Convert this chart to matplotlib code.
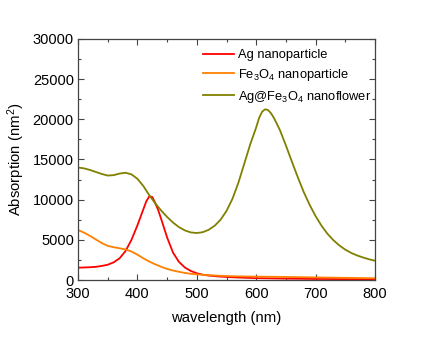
import matplotlib
matplotlib.use("Agg")
import matplotlib.pyplot as plt
from matplotlib.ticker import MultipleLocator

plt.rcParams['font.family'] = ['Liberation Sans', 'DejaVu Sans']
plt.rcParams['mathtext.fontset'] = 'custom'
plt.rcParams['mathtext.rm'] = 'Liberation Sans'
plt.rcParams['mathtext.it'] = 'Liberation Sans'

# Ag nanoparticle
ag_x = [300, 310, 320, 330, 340, 350, 360, 370, 380, 390, 400, 405, 410, 415, 420, 425,
        430, 435, 440, 450, 460, 470, 480, 490, 500, 510, 520, 530, 540, 550, 560, 570,
        580, 600, 650, 700, 750, 800]
ag_y = [1530, 1560, 1590, 1640, 1750, 1900, 2200, 2700, 3600, 5000, 6800, 7800, 8800,
        9800, 10400, 10350, 9600, 8700, 7600, 5300, 3400, 2250, 1550, 1120, 840, 660,
        550, 480, 420, 380, 340, 310, 280, 230, 170, 130, 110, 90]

# Fe3O4 nanoparticle
fe_x = [300, 310, 320, 330, 340, 350, 360, 370, 380, 390, 400, 410, 420, 430, 440,
        450, 460, 470, 480, 490, 500, 520, 540, 560, 580, 600, 650, 700, 750, 800]
fe_y = [6220, 5900, 5500, 5050, 4600, 4250, 4080, 3950, 3800, 3550, 3150, 2700, 2300,
        1950, 1650, 1380, 1180, 1020, 880, 770, 700, 600, 520, 470, 440, 420, 380,
        320, 270, 220]

# Ag@Fe3O4 nanoflower
nf_x = [300, 310, 320, 330, 340, 350, 360, 370, 380, 390, 400, 410, 420, 430, 440,
        450, 460, 470, 480, 490, 500, 510, 520, 530, 540, 550, 560, 570, 580, 590,
        600, 605, 610, 615, 620, 625, 630, 640, 650, 660, 670, 680, 690, 700, 710, 720,
        730, 740, 750, 760, 770, 780, 790, 800]
nf_y = [14000, 13900, 13700, 13450, 13200, 13000, 13050, 13250, 13350, 13150, 12600,
        11700, 10550, 9550, 8650, 7850, 7150, 6580, 6170, 5920, 5850, 5950, 6250, 6750,
        7500, 8600, 10100, 12100, 14500, 16900, 19000, 20200, 20950, 21250, 21150,
        20750, 20150, 18650, 16750, 14750, 12800, 10950, 9350, 7950, 6750, 5750, 4950,
        4300, 3780, 3370, 3050, 2800, 2580, 2400]

labels = ['Ag nanoparticle', 'Fe$_3$O$_4$ nanoparticle', 'Ag@Fe$_3$O$_4$ nanoflower']
colors = ['#ff0000', '#ff8000', '#808000']

fig = plt.figure(figsize=(4.36, 3.37), dpi=100)
ax = fig.add_axes([78/436, 57/337, 297/436, 241/337])

ax.plot(ag_x, ag_y, color=colors[0], lw=1.3, label=labels[0])
ax.plot(fe_x, fe_y, color=colors[1], lw=1.3, label=labels[1])
ax.plot(nf_x, nf_y, color=colors[2], lw=1.3, label=labels[2])

ax.set_xlim(300, 800)
ax.set_ylim(0, 30000)
ax.xaxis.set_major_locator(MultipleLocator(100))
ax.xaxis.set_minor_locator(MultipleLocator(50))
ax.yaxis.set_major_locator(MultipleLocator(5000))
ax.yaxis.set_minor_locator(MultipleLocator(2500))
ax.tick_params(which='both', direction='in', top=True, right=True, labelsize=10.5,
               color='#444444')
ax.tick_params(which='major', length=4, width=0.8, pad=3)
ax.tick_params(axis='x', which='major', pad=5)
ax.tick_params(which='minor', length=2.5, width=0.8)
for s in ax.spines.values():
    s.set_color('#444444')
    s.set_linewidth(0.9)

ax.set_xlabel('wavelength (nm)', fontsize=10.7, labelpad=7)
ax.set_ylabel('Absorption (nm$^2$)', fontsize=10.7, labelpad=4)

leg = ax.legend(loc='upper left', bbox_to_anchor=(203/436, 1 - 49/337),
                bbox_transform=fig.transFigure, frameon=False, fontsize=9.3,
                handlelength=2.4, handletextpad=0.3, borderpad=0, borderaxespad=0,
                labelspacing=0.45)

fig.savefig('out.png', dpi=100)
